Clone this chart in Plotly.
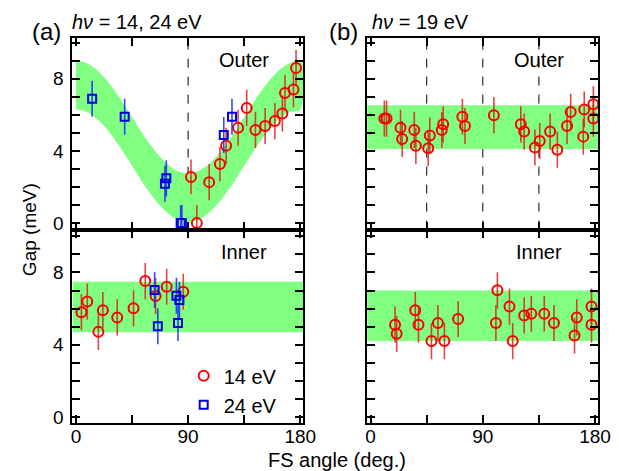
import plotly.graph_objects as go

W, H = 619, 471

# ---------------- data ----------------
# (a) Outer, 14 eV (red circles)
a_out_14_x = [92.3, 97.0, 106.9, 115.5, 120.5, 130.1, 137.0, 144.0, 151.8, 159.6, 165.6, 167.7, 174.5, 176.6]
a_out_14_y = [2.56, 0.0, 2.27, 3.27, 4.28, 5.28, 6.38, 5.16, 5.38, 5.65, 6.07, 7.20, 7.40, 8.59]
a_out_14_e = [0.96, 1.0, 1.0, 0.95, 1.0, 1.0, 1.0, 1.0, 1.0, 1.0, 1.0, 1.0, 1.0, 1.0]
# (a) Outer, 24 eV (blue squares)
a_out_24_x = [13.0, 39.1, 72.5, 71.4, 84.0, 85.0, 118.6, 125.2]
a_out_24_y = [6.89, 5.89, 2.48, 2.18, 0.0, 0.0, 4.88, 5.89]
a_out_24_e = [1.0, 1.0, 1.0, 1.0, 1.0, 1.0, 1.0, 1.0]
# (a) Inner, 14 eV
a_in_14_x = [4.4, 9.1, 18.0, 21.6, 33.1, 46.2, 55.6, 63.9, 72.8, 86.1]
a_in_14_y = [5.80, 6.39, 4.71, 5.91, 5.51, 6.02, 7.52, 6.70, 7.21, 6.93]
a_in_14_e = [1.0] * 10
# (a) Inner, 24 eV
a_in_24_x = [63.1, 65.7, 80.6, 83.0, 81.9]
a_in_24_y = [7.03, 5.02, 6.71, 6.48, 5.20]
a_in_24_e = [1.0] * 5
# (b) Outer, 19 eV
b_out_x = [11.0, 12.8, 24.0, 25.3, 35.0, 36.3, 46.2, 47.5, 57.1, 58.2, 73.6, 75.7, 98.9,
           120.5, 123.2, 131.8, 135.7, 144.0, 149.8, 157.6, 160.5, 170.6, 171.4, 178.7, 178.7]
b_out_y = [5.79, 5.79, 5.28, 4.66, 5.16, 4.28, 4.15, 4.85, 5.16, 5.47, 5.89, 5.38, 5.98,
           5.47, 5.07, 4.19, 4.55, 5.07, 4.06, 5.38, 6.16, 4.79, 6.29, 6.58, 5.79]
b_out_e = [1.0] * 25
# (b) Inner, 19 eV
b_in_x = [19.6, 20.9, 35.8, 38.4, 48.8, 54.0, 59.2, 70.2, 100.5, 101.7, 111.4, 114.0,
          123.2, 128.9, 139.3, 147.1, 163.6, 165.4, 177.2, 177.2]
b_in_y = [5.11, 4.60, 5.91, 5.11, 4.20, 5.20, 4.20, 5.42, 5.20, 7.01, 6.11, 4.20,
          5.62, 5.71, 5.71, 5.20, 4.51, 5.51, 6.11, 5.11]
b_in_e = [1.0] * 20

# Green bands
band_a_out_x = [0, 10, 20, 30, 40, 50, 60, 70, 80, 90, 100, 110, 120, 130, 140, 150, 160, 170, 180]
band_a_out_hi = [9.0, 8.81, 8.27, 7.44, 6.42, 5.33, 4.31, 3.48, 2.94, 2.75, 2.94, 3.48, 4.31, 5.33, 6.42, 7.44, 8.27, 8.81, 9.0]
band_a_out_lo = [6.3, 6.11, 5.57, 4.74, 3.72, 2.63, 1.61, 0.78, 0.24, 0.05, 0.24, 0.78, 1.61, 2.63, 3.72, 4.74, 5.57, 6.11, 6.3]
band_flat_x = [-2.8, 182.5]
band_a_in = (4.69, 7.48)
band_b_out = (4.10, 6.53)
band_b_in = (4.20, 7.00)

guides_a_out = [90]
guides_b_out = [45, 90, 135]

x_ticks = [0, 45, 90, 135, 180]
x_ticklabels = ["0", "", "90", "", "180"]
y_ticks = list(range(0, 11))
y_ticklabels = [str(v) if v % 4 == 0 else "" for v in y_ticks]

# ---------------- styling ----------------
FONT = "Liberation Sans, Arial, sans-serif"
RED = "rgb(250,0,0)"
RED_ERR = "rgba(225,20,20,0.8)"
BLUE = "rgb(0,0,230)"
BLUE_ERR = "rgba(20,40,255,0.85)"
GREEN = "rgb(128,255,128)"

def px(x):
    return x / W

def py(y):
    return 1 - y / H

fig = go.Figure()

def band_poly(xs, lo, hi, xa, ya, shape="spline"):
    fig.add_trace(go.Scatter(
        x=list(xs) + list(xs)[::-1], y=list(hi) + list(lo)[::-1],
        fill="toself", fillcolor=GREEN, line=dict(width=0, color=GREEN, shape=shape),
        mode="lines", hoverinfo="skip", showlegend=False, xaxis=xa, yaxis=ya))

def flat_band(lohi, xa, ya):
    lo, hi = lohi
    band_poly(band_flat_x, [lo, lo], [hi, hi], xa, ya, shape="linear")

def pts(x, y, e, kind, xa, ya, name=None, show=False):
    if kind == "c":
        mk = dict(symbol="circle-open", size=10, color=RED, line=dict(width=2, color=RED))
        ec = RED_ERR
    else:
        mk = dict(symbol="square-open", size=8, color=BLUE, line=dict(width=2, color=BLUE))
        ec = BLUE_ERR
    fig.add_trace(go.Scatter(
        x=x, y=y, mode="markers", marker=mk,
        error_y=dict(type="data", array=e, visible=True, color=ec, thickness=1.6, width=0),
        name=name, showlegend=show, xaxis=xa, yaxis=ya))

band_poly(band_a_out_x, band_a_out_lo, band_a_out_hi, "x", "y")
flat_band(band_b_out, "x2", "y2")
flat_band(band_a_in, "x3", "y3")
flat_band(band_b_in, "x4", "y4")

pts(a_out_14_x, a_out_14_y, a_out_14_e, "c", "x", "y")
pts(a_out_24_x, a_out_24_y, a_out_24_e, "s", "x", "y")
pts(b_out_x, b_out_y, b_out_e, "c", "x2", "y2")
pts(a_in_14_x, a_in_14_y, a_in_14_e, "c", "x3", "y3", name="14 eV", show=True)
pts(a_in_24_x, a_in_24_y, a_in_24_e, "s", "x3", "y3", name="24 eV", show=True)
pts(b_in_x, b_in_y, b_in_e, "c", "x4", "y4")

shapes = []
for g in guides_a_out:
    shapes.append(dict(type="line", xref="x", yref="y domain", x0=g, x1=g, y0=0, y1=1,
                       line=dict(color="black", width=1, dash="dash"), layer="below"))
for g in guides_b_out:
    shapes.append(dict(type="line", xref="x2", yref="y2 domain", x0=g, x1=g, y0=0, y1=1,
                       line=dict(color="black", width=1, dash="dash"), layer="below"))

XR = [-2.8, 182.5]
YR_TOP = [-0.36, 10.27]
YR_BOT = [-0.31, 10.37]
dom_a = [px(64), px(300.7)]
dom_b = [px(366), px(602.7)]
dom_top = [py(224), py(30)]
dom_bot = [py(419), py(224)]

def xax(domain, anchor, labels):
    return dict(domain=domain, anchor=anchor, range=XR, tickvals=x_ticks,
                ticktext=x_ticklabels if labels else [""] * 5,
                showticklabels=labels, ticks="inside", ticklen=8, tickwidth=1.5,
                tickcolor="black", showline=True, linecolor="black", linewidth=2,
                mirror="allticks", showgrid=False, zeroline=False,
                ticklabelstandoff=-4,
                tickfont=dict(family=FONT, size=19, color="black"))

def yax(domain, anchor, labels, rng):
    return dict(domain=domain, anchor=anchor, range=rng, tickvals=y_ticks,
                ticktext=y_ticklabels if labels else [""] * len(y_ticks),
                showticklabels=labels, ticks="inside", ticklen=8, tickwidth=1.5,
                tickcolor="black", showline=True, linecolor="black", linewidth=2,
                mirror="allticks", showgrid=False, zeroline=False,
                ticklabelstandoff=3,
                tickfont=dict(family=FONT, size=19, color="black"))

annotations = []
def txt(x, y, s, size=20, xanchor="center", angle=0):
    annotations.append(dict(x=px(x), y=py(y), xref="paper", yref="paper", text=s,
                            showarrow=False, xanchor=xanchor, yanchor="middle",
                            textangle=angle,
                            font=dict(family=FONT, size=size, color="black")))

txt(37, 24, "(a)", size=24)
txt(62, 14, "<i>hν</i> = 14, 24 eV", size=20, xanchor="left")
txt(342, 24, "(b)", size=24)
txt(369, 14, "<i>hν</i> = 19 eV", size=20, xanchor="left")
txt(240, 53, "Outer", size=20)
txt(240, 247, "Inner", size=20)
txt(542, 53, "Outer", size=20)
txt(542, 247, "Inner", size=20)
txt(20, 224, "Gap (meV)", size=19, angle=-90)
txt(335, 457, "FS angle (deg.)", size=20)

fig.update_layout(
    width=W, height=H, margin=dict(l=0, r=0, t=0, b=0),
    paper_bgcolor="white", plot_bgcolor="rgba(0,0,0,0)",
    xaxis=xax(dom_a, "y", False), yaxis=yax(dom_top, "x", True, YR_TOP),
    xaxis2=xax(dom_b, "y2", False), yaxis2=yax(dom_top, "x2", False, YR_TOP),
    xaxis3=xax(dom_a, "y3", True), yaxis3=yax(dom_bot, "x3", True, YR_BOT),
    xaxis4=xax(dom_b, "y4", True), yaxis4=yax(dom_bot, "x4", False, YR_BOT),
    shapes=shapes, annotations=annotations,
    legend=dict(x=px(178), y=py(352), xanchor="left", yanchor="top",
                bgcolor="rgba(0,0,0,0)", borderwidth=0, tracegroupgap=0,
                font=dict(family=FONT, size=20, color="black")),
    font=dict(family=FONT, color="black"),
)

fig.write_html("out.html")
